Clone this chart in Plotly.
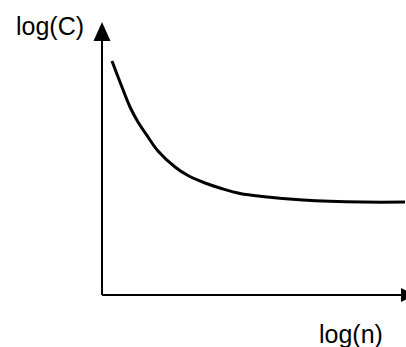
import plotly.graph_objects as go

# Curve values (arbitrary units, origin at the axes' corner)
log_n = [10, 18, 28, 36, 46, 56, 73, 86, 103, 121, 138, 160, 201, 261, 303]
log_C = [234, 213, 188, 173, 158, 144, 128, 119.5, 112, 106, 101.5, 98.5, 95, 93, 93]

x_label = "log(n)"
y_label = "log(C)"

fig = go.Figure()
fig.add_trace(go.Scatter(
    x=log_n, y=log_C, mode="lines",
    line=dict(color="black", width=3, shape="spline", smoothing=1.0),
    hoverinfo="skip", showlegend=False,
))

# axes with arrows
fig.add_shape(type="line", x0=0, y0=0, x1=0, y1=256,
              line=dict(color="black", width=2))
fig.add_shape(type="path", path="M -8.5 254 L 8.5 254 L 0 273 Z",
              fillcolor="black", line=dict(color="black", width=0))
fig.add_shape(type="line", x0=0, y0=0, x1=300, y1=0,
              line=dict(color="black", width=2))
fig.add_shape(type="path", path="M 299 7 L 299 -7 L 313 0 Z",
              fillcolor="black", line=dict(color="black", width=0))

fig.add_annotation(text=y_label, xref="paper", yref="paper",
                   x=14 / 406, y=1 - 10 / 347, xanchor="left", yanchor="top",
                   showarrow=False,
                   font=dict(family="Liberation Sans, Arial", size=25, color="black"))
fig.add_annotation(text=x_label, xref="paper", yref="paper",
                   x=317 / 406, y=1 - 318 / 347, xanchor="left", yanchor="top",
                   showarrow=False,
                   font=dict(family="Liberation Sans, Arial", size=25, color="black"))

fig.update_layout(
    width=406, height=347,
    margin=dict(l=0, r=0, t=0, b=0),
    paper_bgcolor="white", plot_bgcolor="white",
    xaxis=dict(range=[-102, 304], visible=False, fixedrange=True),
    yaxis=dict(range=[-52, 295], visible=False, fixedrange=True),
)

fig.write_html("out.html", config={"displayModeBar": False},
               post_script="document.body.style.margin='0';document.body.style.overflow='hidden';")
